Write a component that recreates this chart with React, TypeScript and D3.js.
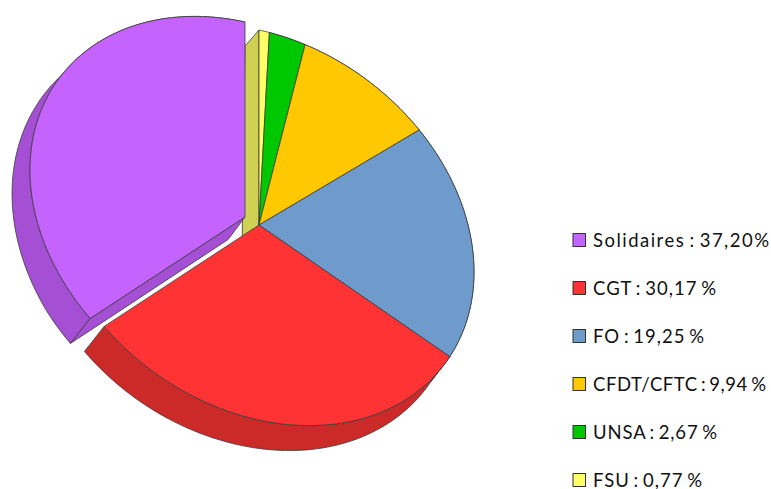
import React from "react";
import * as d3 from "d3";

const labels = ["Solidaires : 37,20%", "CGT : 30,17 %", "FO : 19,25 %", "CFDT/CFTC : 9,94 %", "UNSA : 2,67 %", "FSU : 0,77 %"];
const names = ["Solidaires", "CGT", "FO", "CFDT/CFTC", "UNSA", "FSU"];
const values = [37.2, 30.17, 19.25, 9.94, 2.67, 0.77];
const topColors = ["#C563FF", "#FF3333", "#6E9BCB", "#FFC800", "#00C800", "#FFFF66"];
const wallColors = ["#A54FD4", "#CC2929", "#5A7EA6", "#CCA000", "#00A000", "#D0D055"];
const labelWidths = [176, 123, 111, 173, 124, 109];

type P = [number, number];
const apex: P = [259, 225];
const explode: P = [-14, -8];

// oblique projection of the pie disc
const project = (t: number, r = 1, off: P = [0, 0]): P => [
  apex[0] + off[0] + r * 215 * Math.sin(t),
  apex[1] + off[1] + r * (47 * Math.sin(t) - 195 * Math.cos(t)),
];
// depth extrusion, slightly perspective
const extrude = ([x, y]: P): P => [
  x - 14 - 0.015 * (y - 30) - 0.008 * Math.max(0, 259 - x),
  y + Math.min(25, 16 + 0.035 * (y - 30)),
];
const line = d3.line<P>();
const closed = (pts: P[]) => line(pts) + "Z";
const STROKE = "#3c3c3c";

export default function App() {
  const arcs = d3.pie<number>().sort(null).startAngle(0).endAngle(2 * Math.PI)(values.slice().reverse());
  const slices = arcs.map((a, i) => {
    const k = values.length - 1 - i;
    const off: P = k === 0 ? explode : [0, 0];
    const n = Math.max(4, Math.ceil((a.endAngle - a.startAngle) * 40));
    const outer = d3.range(n + 1).map((j) =>
      project(a.startAngle + ((a.endAngle - a.startAngle) * j) / n, 1, off));
    const c: P = [apex[0] + off[0], apex[1] + off[1]];
    return { k, off, outer, c };
  });
  const byName = (k: number) => slices.find((s) => s.k === k)!;
  const wall = (k: number) => {
    const s = byName(k);
    return closed([...s.outer, ...s.outer.slice().reverse().map(extrude)]);
  };
  const cut = (k: number, p: P) => {
    const s = byName(k);
    return closed([s.c, p, extrude(p), extrude(s.c)]);
  };
  const top = (k: number) => {
    const s = byName(k);
    return closed([s.c, ...s.outer]);
  };
  const fsu = byName(5);
  const sol = byName(0);
  const legendY = d3.scalePoint<string>().domain(names).range([240, 480]);

  return (
    <svg width={771} height={489} style={{ position: "absolute", left: 0, top: 0 }}>
      <g stroke={STROKE} strokeWidth={0.8} strokeLinejoin="round">
        {[4, 3, 2].map((k) => (
          <path key={k} d={wall(k)} fill={wallColors[k]} />
        ))}
        <path d={cut(5, fsu.outer[0])} fill={wallColors[5]} />
        {[5, 4, 3, 2].map((k) => (
          <path key={k} d={top(k)} fill={topColors[k]} />
        ))}
        <path d={wall(0)} fill={wallColors[0]} />
        <path d={cut(0, sol.outer[0])} fill={wallColors[0]} />
        <path d={top(0)} fill={topColors[0]} />
        <path d={wall(1)} fill={wallColors[1]} />
        <path d={top(1)} fill={topColors[1]} />
      </g>
      {names.map((n, i) => (
        <g key={n}>
          <rect x={573} y={legendY(n)! - 6.5} width={12.5} height={13} fill={topColors[i]} stroke="#333" strokeWidth={1} />
          <text
            x={593}
            y={legendY(n)! + 7}
            fontFamily="Lato, 'Open Sans', sans-serif"
            fontSize={18.5}
            fill="#111"
            wordSpacing={-2}
            textLength={labelWidths[i]}
            lengthAdjust="spacing"
          >
            {labels[i]}
          </text>
        </g>
      ))}
    </svg>
  );
}
